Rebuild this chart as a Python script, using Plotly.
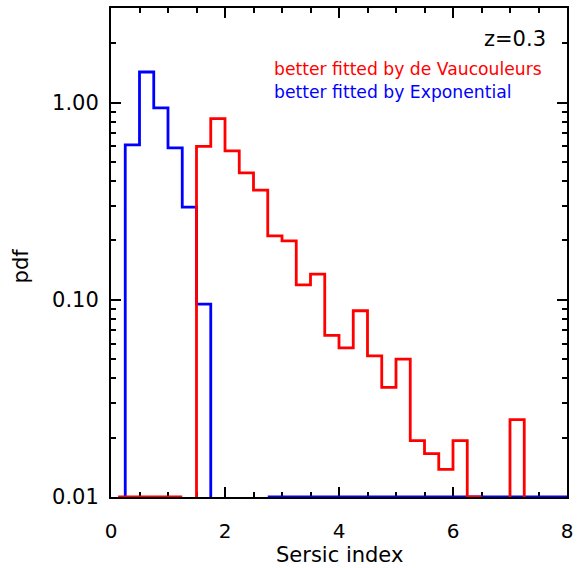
import numpy as np
import plotly.graph_objects as go

# Histogram bins in Sersic index (width 0.25, from 0 to 8)
bin_width = 0.25
bin_left = [i * 0.25 for i in range(32)]

# pdf per bin; 0 = empty bin drawn along the axis floor, None = no line
pdf_devauc = [0, 0, 0, 0, 0, None,
              0.60, 0.83, 0.57, 0.44, 0.36, 0.211, 0.199, 0.119, 0.135,
              0.066, 0.057, 0.088, 0.052, 0.036, 0.050, 0.0193, 0.0166,
              0.0138, 0.0193, 0, None, None, 0.0247, None, None, None]
pdf_expo = [None, 0.61, 1.43, 0.94, 0.59, 0.295, 0.095,
            None, None, None, None] + [0] * 21

y_floor = 0.01
y_top = 3.02
x_ticks = [0, 2, 4, 6, 8]
y_ticks = [0.01, 0.1, 1.0]
y_ticktext = ["0.01", "0.10", "1.00"]
y_minor = [m * d for d in (0.01, 0.1, 1.0) for m in range(2, 10) if m * d < y_top]

redline = "#ff0000"
blueline = "#0000ff"


def step_path(values, first_from_center=True):
    """Histogram-style step outline; empty bins sit on the floor."""
    xs, ys = [], []
    n = len(values)
    i = 0
    while i < n:
        v = values[i]
        if v is None:
            i += 1
            continue
        left = bin_left[i]
        y = max(v, y_floor)
        if i == 0 and first_from_center:
            left += bin_width / 2
            xs.append(left); ys.append(y)
        else:
            if y > y_floor and i > 0:
                xs.append(left); ys.append(y_floor)
            xs.append(left); ys.append(y)
        # walk along contiguous bins
        while True:
            right = bin_left[i] + bin_width
            xs.append(right); ys.append(y)
            nxt = values[i + 1] if i + 1 < n else None
            if nxt is None:
                if y > y_floor and i + 1 < n:
                    xs.append(right); ys.append(y_floor)
                xs.append(None); ys.append(None)
                i += 1
                break
            y = max(nxt, y_floor)
            xs.append(right); ys.append(y)
            i += 1
    return xs, ys


fig = go.Figure()
for vals, col in ((pdf_expo, blueline), (pdf_devauc, redline)):
    xs, ys = step_path(vals)
    fig.add_trace(go.Scatter(x=xs, y=ys, mode="lines",
                             line=dict(color=col, width=2.8, shape="linear"),
                             cliponaxis=False, showlegend=False,
                             hoverinfo="skip"))

font_main = "DejaVu Sans"
axis_common = dict(showline=True, linecolor="black", linewidth=2,
                   mirror="ticks", ticks="inside", tickcolor="black",
                   tickwidth=2, showgrid=False, zeroline=False,
                   layer="below traces")

fig.update_xaxes(range=[0, 8], tickvals=x_ticks, ticklen=10,
                 ticklabelstandoff=15,
                 tickfont=dict(family=font_main, size=20, color="black"),
                 minor=dict(dtick=0.5, ticks="inside", ticklen=5,
                            tickcolor="black", tickwidth=2, showgrid=False),
                 **axis_common)
fig.update_yaxes(type="log", range=[np.log10(y_floor), np.log10(y_top)],
                 tickvals=y_ticks, ticktext=y_ticktext, ticklen=10,
                 ticklabelstandoff=6,
                 tickfont=dict(family=font_main, size=21, color="black"),
                 minor=dict(tickvals=y_minor, ticks="inside", ticklen=5,
                            tickcolor="black", tickwidth=2, showgrid=False),
                 **axis_common)

fig.add_annotation(text="Sersic index", xref="paper", yref="paper",
                   x=0.5, y=-0.119, yanchor="middle", xanchor="center",
                   showarrow=False,
                   font=dict(family=font_main, size=21, color="black"))
fig.add_annotation(text="pdf", xref="paper", yref="paper",
                   x=-0.198, y=0.473, xanchor="center", yanchor="middle",
                   textangle=-90, showarrow=False,
                   font=dict(family=font_main, size=21, color="black"))
fig.add_annotation(text="z=0.3", xref="paper", yref="paper",
                   x=0.958, y=0.937, xanchor="right", yanchor="middle",
                   showarrow=False,
                   font=dict(family=font_main, size=21, color="black"))
fig.add_annotation(text="better fitted by de Vaucouleurs", xref="paper",
                   yref="paper", x=0.352, y=0.875, xanchor="left",
                   yanchor="middle", showarrow=False,
                   font=dict(family=font_main, size=17.2, color=redline))
fig.add_annotation(text="better fitted by Exponential", xref="paper",
                   yref="paper", x=0.352, y=0.829, xanchor="left",
                   yanchor="middle", showarrow=False,
                   font=dict(family=font_main, size=17.2, color=blueline))

fig.update_layout(width=579, height=568,
                  margin=dict(l=111, r=10, t=6, b=71),
                  plot_bgcolor="white", paper_bgcolor="white")

fig.write_html("out.html")
